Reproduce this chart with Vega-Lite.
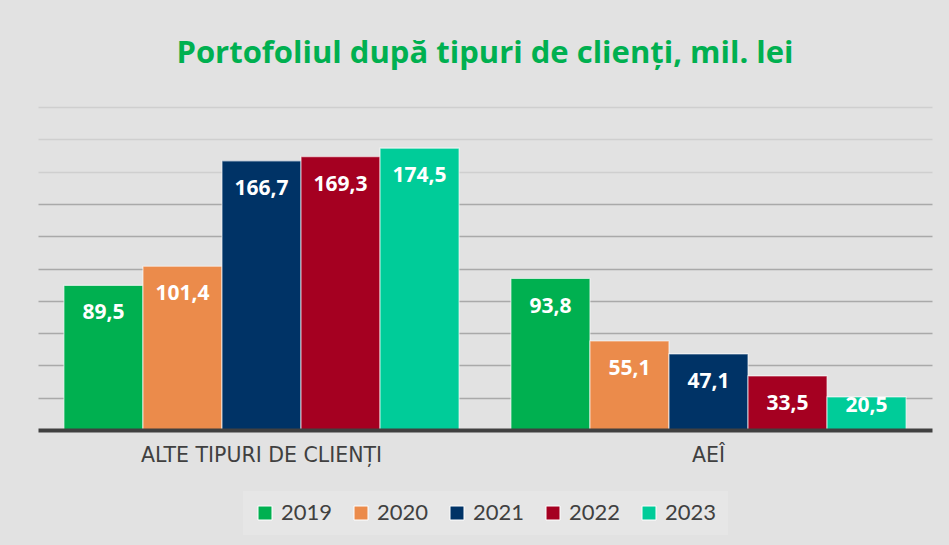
{
  "$schema": "https://vega.github.io/schema/vega-lite/v6.json",
  "width": 894,
  "height": 323,
  "autosize": {"type": "none"},
  "padding": {"left": 38, "top": 107, "right": 17, "bottom": 115},
  "background": "#e2e2e2",
  "title": {
    "text": "Portofoliul după tipuri de clienți, mil. lei",
    "font": "Open Sans",
    "fontSize": 31,
    "fontWeight": "bold",
    "color": "#00B050",
    "anchor": "middle",
    "offset": 37
  },
  "data": {
    "values": [
      {"category": "ALTE TIPURI DE CLIENȚI", "year": "2019", "value": 89.5, "label": "89,5"},
      {"category": "ALTE TIPURI DE CLIENȚI", "year": "2020", "value": 101.4, "label": "101,4"},
      {"category": "ALTE TIPURI DE CLIENȚI", "year": "2021", "value": 166.7, "label": "166,7"},
      {"category": "ALTE TIPURI DE CLIENȚI", "year": "2022", "value": 169.3, "label": "169,3"},
      {"category": "ALTE TIPURI DE CLIENȚI", "year": "2023", "value": 174.5, "label": "174,5"},
      {"category": "AEÎ", "year": "2019", "value": 93.8, "label": "93,8"},
      {"category": "AEÎ", "year": "2020", "value": 55.1, "label": "55,1"},
      {"category": "AEÎ", "year": "2021", "value": 47.1, "label": "47,1"},
      {"category": "AEÎ", "year": "2022", "value": 33.5, "label": "33,5"},
      {"category": "AEÎ", "year": "2023", "value": 20.5, "label": "20,5"}
    ]
  },
  "encoding": {
    "x": {
      "field": "category",
      "type": "nominal",
      "sort": null,
      "scale": {"paddingInner": 0.116, "paddingOuter": 0.058},
      "axis": {
        "title": null,
        "labelAngle": 0,
        "labelFont": "DejaVu Sans",
        "labelFontSize": 20.5,
        "labelColor": "#404040",
        "labelPadding": 15,
        "labelLimit": 0,
        "ticks": false,
        "domainColor": "#404040",
        "domainWidth": 4,
        "zindex": 1
      }
    },
    "xOffset": {"field": "year", "type": "nominal", "sort": null},
    "y": {
      "field": "value",
      "type": "quantitative",
      "scale": {"domain": [0, 200], "nice": false},
      "axis": {
        "title": null,
        "labels": false,
        "ticks": false,
        "domain": false,
        "values": [20, 40, 60, 80, 100, 120, 140, 160, 180, 200],
        "grid": true,
        "gridColor": {"condition": {"test": "datum.value >= 160", "value": "#cfcfcf"}, "value": "#a9a9a9"},
        "gridWidth": 1.5
      }
    }
  },
  "layer": [
    {
      "mark": {"type": "bar", "stroke": "#ffffff", "strokeOpacity": 0.6, "strokeWidth": 1.2},
      "encoding": {
        "color": {
          "field": "year",
          "type": "nominal",
          "scale": {
            "domain": ["2019", "2020", "2021", "2022", "2023"],
            "range": ["#00B050", "#EB8B4B", "#003366", "#A50021", "#00CC99"]
          },
          "legend": {
            "title": null,
            "orient": "none",
            "direction": "horizontal",
            "legendX": 205,
            "legendY": 384,
            "padding": 11,
            "fillColor": "#e6e6e6",
            "symbolType": "square",
            "symbolSize": 196,
            "symbolStrokeColor": "#ffffff",
            "symbolStrokeWidth": 1,
            "symbolOpacity": 1,
            "labelFont": "Lato",
            "labelFontSize": 22,
            "labelColor": "#404040",
            "labelOffset": 5,
            "columnPadding": 17
          }
        }
      }
    },
    {
      "mark": {
        "type": "text",
        "color": "#ffffff",
        "font": "Open Sans",
        "fontWeight": "bold",
        "fontSize": 21,
        "baseline": "middle",
        "dy": {"expr": "datum.value < 25 ? 9 : 28"}
      },
      "encoding": {
        "text": {"field": "label"}
      }
    }
  ],
  "config": {
    "view": {"stroke": null}
  }
}
